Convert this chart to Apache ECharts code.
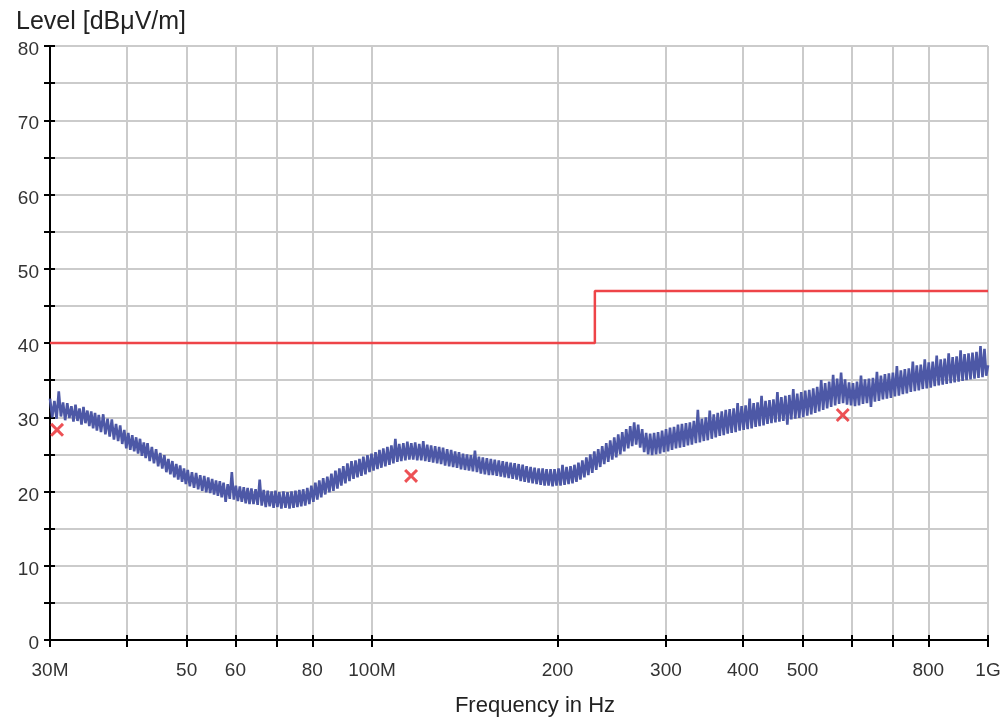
<!DOCTYPE html>
<html>
<head>
<meta charset="utf-8">
<title>Level vs Frequency</title>
<script src="https://cdn.jsdelivr.net/npm/echarts@6/dist/echarts.min.js"></script>
<style>
  html, body { margin: 0; padding: 0; background: #fff; }
  #chart { width: 1006px; height: 717px; }
</style>
</head>
<body>
<div id="chart"></div>
<script>
// frequency in MHz
const traceFreq = [
  30, 30.25, 30.5, 30.75, 31, 31.25, 31.5, 31.75, 32, 32.25, 32.5, 32.75, 33, 33.25, 33.5, 33.75, 34, 34.25, 34.5, 34.75,
  35, 35.25, 35.5, 35.75, 36, 36.3, 36.6, 36.9, 37.2, 37.5, 37.8, 38.1, 38.4, 38.7, 39, 39.3, 39.6, 39.9, 40.2, 40.5,
  40.8, 41.1, 41.4, 41.7, 42, 42.3, 42.6, 42.9, 43.2, 43.55, 43.9, 44.25, 44.6, 44.95, 45.3, 45.65, 46, 46.35, 46.7, 47.05,
  47.4, 47.75, 48.1, 48.45, 48.8, 49.15, 49.5, 49.85, 50.2, 50.6, 51, 51.4, 51.8, 52.2, 52.6, 53, 53.4, 53.8, 54.2, 54.6,
  55, 55.4, 55.8, 56.2, 56.6, 57, 57.4, 57.85, 58.3, 58.75, 59.2, 59.65, 60.1, 60.55, 61, 61.45, 61.9, 62.35, 62.8, 63.25,
  63.7, 64.2, 64.7, 65.2, 65.7, 66.2, 66.7, 67.2, 67.7, 68.2, 68.7, 69.2, 69.7, 70.2, 70.7, 71.25, 71.8, 72.35, 72.9, 73.45,
  74, 74.55, 75.1, 75.65, 76.2, 76.75, 77.3, 77.9, 78.5, 79.1, 79.7, 80.3, 80.9, 81.5, 82.1, 82.7, 83.3, 83.95, 84.6, 85.25,
  85.9, 86.55, 87.2, 87.85, 88.5, 89.15, 89.8, 90.5, 91.2, 91.9, 92.6, 93.3, 94, 94.7, 95.4, 96.1, 96.8, 97.55, 98.3, 99.05,
  99.8, 100.55, 101.3, 102.05, 102.8, 103.55, 104.3, 105.1, 105.9, 106.7, 107.5, 108.3, 109.1, 109.9, 110.7, 111.55, 112.4, 113.25, 114.1, 114.95,
  115.8, 116.65, 117.5, 118.4, 119.3, 120.2, 121.1, 122, 122.9, 123.8, 124.7, 125.65, 126.6, 127.55, 128.5, 129.45, 130.4, 131.4, 132.4, 133.4,
  134.4, 135.4, 136.4, 137.4, 138.4, 139.45, 140.5, 141.55, 142.6, 143.65, 144.7, 145.8, 146.9, 148, 149.1, 150.2, 151.3, 152.45, 153.6, 154.75,
  155.9, 157.05, 158.2, 159.4, 160.6, 161.8, 163, 164.2, 165.4, 166.65, 167.9, 169.15, 170.4, 171.7, 173, 174.3, 175.6, 176.9, 178.2, 179.55,
  180.9, 182.25, 183.6, 185, 186.4, 187.8, 189.2, 190.6, 192, 193.45, 194.9, 196.35, 197.8, 199.3, 200.8, 202.3, 203.8, 205.35, 206.9, 208.45,
  210, 211.55, 213.1, 214.7, 216.3, 217.9, 219.5, 221.15, 222.8, 224.45, 226.1, 227.8, 229.5, 231.2, 232.9, 234.65, 236.4, 238.2, 240, 241.8,
  243.6, 245.45, 247.3, 249.15, 251, 252.9, 254.8, 256.7, 258.6, 260.55, 262.5, 264.45, 266.4, 268.4, 270.4, 272.45, 274.5, 276.55, 278.6, 280.7,
  282.8, 284.9, 287, 289.15, 291.3, 293.5, 295.7, 297.9, 300.1, 302.35, 304.6, 306.9, 309.2, 311.5, 313.8, 316.15, 318.5, 320.9, 323.3, 325.7,
  328.1, 330.55, 333, 335.5, 338, 340.55, 343.1, 345.65, 348.2, 350.8, 353.4, 356.05, 358.7, 361.4, 364.1, 366.85, 369.6, 372.35, 375.1, 377.9,
  380.7, 383.55, 386.4, 389.3, 392.2, 395.15, 398.1, 401.1, 404.1, 407.15, 410.2, 413.3, 416.4, 419.5, 422.6, 425.75, 428.9, 432.1, 435.3, 438.55,
  441.8, 445.1, 448.4, 451.75, 455.1, 458.5, 461.9, 465.35, 468.8, 472.3, 475.8, 479.35, 482.9, 486.5, 490.1, 493.8, 497.5, 501.25, 505, 508.8,
  512.6, 516.45, 520.3, 524.2, 528.1, 532.05, 536, 540, 544, 548.1, 552.2, 556.35, 560.5, 564.7, 568.9, 573.15, 577.4, 581.7, 586, 590.4,
  594.8, 599.25, 603.7, 608.25, 612.8, 617.4, 622, 626.65, 631.3, 636.05, 640.8, 645.6, 650.4, 655.3, 660.2, 665.15, 670.1, 675.15, 680.2, 685.3,
  690.4, 695.6, 700.8, 706.05, 711.3, 716.65, 722, 727.4, 732.8, 738.3, 743.8, 749.4, 755, 760.65, 766.3, 772.05, 777.8, 783.65, 789.5, 795.4,
  801.3, 807.3, 813.3, 819.4, 825.5, 831.7, 837.9, 844.2, 850.5, 856.9, 863.3, 869.75, 876.2, 882.75, 889.3, 895.95, 902.6, 909.35, 916.1, 922.95,
  929.8, 936.75, 943.7, 950.8, 957.9, 965.1, 972.3, 979.6, 986.9, 993.45, 1000
];
// level in dBuV/m
const traceLevel = [
  32.5, 30.0, 32.2, 29.8, 33.5, 30.1, 32.0, 29.6, 31.9, 29.9, 31.5, 29.4, 31.7, 29.5, 31.2, 29.0, 31.4, 29.2, 30.9, 28.8,
  30.8, 28.5, 30.6, 28.2, 30.3, 28.0, 30.4, 27.7, 29.8, 27.4, 29.7, 27.0, 29.1, 26.8, 28.9, 26.4, 28.3, 25.8, 27.9, 25.6,
  27.6, 25.4, 27.3, 25.1, 27.1, 24.8, 26.6, 24.5, 26.5, 24.1, 26.0, 23.8, 25.7, 23.4, 25.2, 23.1, 24.9, 22.6, 24.4, 22.3,
  24.1, 21.9, 23.7, 21.6, 23.5, 21.3, 23.1, 21.0, 22.9, 20.7, 22.6, 20.5, 22.5, 20.3, 22.2, 20.1, 22.1, 19.9, 21.9, 19.8,
  21.7, 19.6, 21.5, 19.4, 21.4, 19.2, 21.2, 18.6, 21.0, 19.0, 22.6, 18.9, 20.8, 18.7, 20.7, 18.6, 20.6, 18.4, 20.5, 18.3,
  20.4, 18.3, 20.3, 18.2, 21.6, 18.1, 20.2, 17.9, 20.1, 18.0, 20.0, 17.8, 20.1, 17.9, 19.9, 17.7, 20.0, 17.8, 19.9, 17.7,
  20.0, 17.8, 20.1, 17.9, 20.2, 18.0, 20.3, 18.1, 20.5, 18.3, 20.8, 18.6, 21.2, 18.9, 21.5, 19.2, 21.8, 19.6, 22.0, 19.9,
  22.4, 20.1, 22.8, 20.4, 23.1, 20.8, 23.4, 21.1, 23.8, 21.4, 24.1, 21.7, 24.2, 21.9, 24.4, 22.1, 24.7, 22.3, 24.9, 22.6,
  25.1, 22.8, 25.3, 23.0, 25.6, 23.2, 25.8, 23.4, 26.0, 23.6, 26.2, 23.8, 27.1, 24.0, 26.4, 24.1, 26.5, 24.2, 26.7, 24.3,
  26.5, 24.3, 26.6, 24.2, 26.4, 24.2, 26.8, 24.1, 26.3, 24.0, 26.2, 23.9, 26.1, 23.8, 26.0, 23.7, 25.9, 23.5, 25.7, 23.4,
  25.6, 23.3, 25.4, 23.2, 25.3, 23.0, 25.1, 22.9, 25.0, 22.8, 24.9, 22.7, 25.5, 22.6, 24.7, 22.4, 24.6, 22.3, 24.5, 22.2,
  24.4, 22.2, 24.3, 22.1, 24.2, 22.0, 24.1, 21.9, 24.0, 21.8, 23.9, 21.7, 23.8, 21.6, 23.7, 21.4, 23.6, 21.3, 23.4, 21.2,
  23.3, 21.1, 23.2, 21.0, 23.1, 20.9, 23.1, 20.8, 23.0, 20.8, 23.0, 20.7, 23.0, 20.8, 23.1, 20.8, 23.6, 20.9, 23.3, 21.0,
  23.4, 21.1, 23.6, 21.3, 23.9, 21.6, 24.2, 21.9, 24.6, 22.2, 25.0, 22.5, 25.4, 22.9, 25.7, 23.3, 26.1, 23.7, 26.5, 24.0,
  26.9, 24.3, 27.3, 24.6, 27.7, 25.0, 28.0, 25.4, 28.4, 25.8, 28.8, 26.1, 29.3, 26.3, 29.0, 25.9, 28.4, 25.3, 27.9, 25.0,
  27.8, 24.9, 27.9, 25.0, 28.0, 25.1, 28.2, 25.3, 28.4, 25.4, 28.6, 25.6, 28.7, 25.8, 29.0, 25.9, 29.1, 26.0, 29.2, 26.2,
  29.3, 26.3, 29.5, 26.5, 31.0, 26.6, 29.8, 26.8, 30.0, 26.9, 30.9, 27.1, 30.4, 27.3, 30.6, 27.5, 30.8, 27.6, 31.0, 27.8,
  31.1, 27.9, 31.2, 28.0, 31.9, 28.2, 31.5, 28.3, 31.6, 28.4, 32.5, 28.5, 31.9, 28.7, 32.0, 28.8, 32.9, 28.9, 32.2, 29.1,
  32.3, 29.2, 32.4, 29.3, 33.4, 29.4, 32.7, 29.5, 32.9, 29.0, 33.0, 29.7, 33.8, 29.8, 33.2, 29.9, 33.4, 30.0, 33.6, 30.2,
  33.7, 30.4, 33.9, 30.6, 34.1, 30.8, 35.0, 31.0, 34.6, 31.2, 34.8, 31.4, 35.7, 31.6, 35.2, 31.8, 36.0, 31.9, 35.1, 31.7,
  34.7, 31.6, 34.6, 31.5, 34.8, 31.6, 35.6, 31.8, 35.1, 31.9, 35.2, 31.4, 35.3, 32.1, 36.1, 32.2, 35.6, 32.4, 35.8, 32.5,
  35.9, 32.6, 36.0, 32.8, 36.9, 32.9, 36.3, 33.1, 36.5, 33.2, 36.6, 33.4, 37.5, 33.5, 37.0, 33.6, 37.1, 33.8, 37.8, 33.9,
  37.4, 34.0, 37.5, 34.2, 38.3, 34.3, 37.8, 34.4, 37.9, 34.5, 38.6, 34.6, 38.1, 34.7, 38.2, 34.8, 39.0, 34.9, 38.5, 35.0,
  38.6, 35.1, 38.7, 35.2, 38.8, 35.3, 39.6, 35.4, 39.2, 35.6, 37.0
];

const limitFreq = [30, 230, 230, 1000];
const limitLevel = [40, 40, 47, 47];

const markerFreq = [30.8, 115.7, 581];
const markerLevel = [28.3, 22.1, 30.3];

const xTickValues = [30, 40, 50, 60, 70, 80, 100, 200, 300, 400, 500, 600, 700, 800, 1000];
const xLabelValues = [30, 50, 60, 80, 100, 200, 300, 400, 500, 800, 1000];
const xLabelText = { 30: '30M', 100: '100M', 1000: '1G' };

function zip(xs, ys) {
    return xs.map(function (x, i) { return [x, ys[i]]; });
}

const fontFamily = '"Liberation Sans", Arial, sans-serif';
const crossPath = 'path://M0,1.5 L1.5,0 L5,3.5 L8.5,0 L10,1.5 L6.5,5 L10,8.5 L8.5,10 L5,6.5 L1.5,10 L0,8.5 L3.5,5 Z';

const chart = echarts.init(document.getElementById('chart'), null, { renderer: 'canvas' });

const xBase = {
    type: 'log',
    logBase: 10,
    min: 30,
    max: 1000,
    position: 'bottom'
};
const yBase = {
    type: 'value',
    min: 0,
    max: 80,
    interval: 5,
    position: 'left'
};

chart.setOption({
    animation: false,
    backgroundColor: '#ffffff',
    title: {
        text: 'Level [dBμV/m]',
        left: 11,
        top: 5,
        textStyle: { fontFamily: fontFamily, fontSize: 25, fontWeight: 'normal', color: '#222' }
    },
    grid: { left: 50, right: 18, top: 46, bottom: 77, containLabel: false, outerBoundsMode: 'none' },
    xAxis: [
        Object.assign({}, xBase, {
            name: 'Frequency in Hz',
            nameLocation: 'middle',
            nameGap: 55,
            nameTextStyle: { fontFamily: fontFamily, fontSize: 22, color: '#222', padding: [0, 0, 0, 32] },
            axisLine: { show: true, onZero: false, lineStyle: { color: '#000', width: 2 } },
            axisTick: { show: true, length: 7, customValues: xTickValues, lineStyle: { color: '#000', width: 2 } },
            axisLabel: {
                show: true,
                customValues: xLabelValues,
                margin: 21,
                fontFamily: fontFamily,
                fontSize: 19,
                color: '#333',
                formatter: function (v) {
                    const k = Math.round(v);
                    return xLabelText[k] || String(k);
                }
            },
            splitLine: { show: true, lineStyle: { color: '#cbcbcb', width: 2 } },
            minorTick: { show: false },
            minorSplitLine: { show: false }
        }),
        Object.assign({}, xBase, {
            axisLine: { show: false, onZero: false },
            axisTick: { show: true, inside: true, length: 5, customValues: xTickValues, lineStyle: { color: '#000', width: 2 } },
            axisLabel: { show: false },
            splitLine: { show: false }
        })
    ],
    yAxis: [
        Object.assign({}, yBase, {
            axisLine: { show: true, onZero: false, lineStyle: { color: '#000', width: 2 } },
            axisTick: { show: true, length: 6, lineStyle: { color: '#000', width: 2 } },
            axisLabel: {
                margin: 11,
                verticalAlign: 'top',
                lineHeight: 8,
                fontFamily: fontFamily,
                fontSize: 19,
                color: '#333',
                formatter: function (v) { return v % 10 === 0 ? String(v) : ''; }
            },
            splitLine: { show: true, lineStyle: { color: '#cbcbcb', width: 2 } }
        }),
        Object.assign({}, yBase, {
            axisLine: { show: false, onZero: false },
            axisTick: { show: true, inside: true, length: 5, lineStyle: { color: '#000', width: 2 } },
            axisLabel: { show: false },
            splitLine: { show: false }
        })
    ],
    series: [
        {
            name: 'Level',
            type: 'line',
            data: zip(traceFreq, traceLevel),
            showSymbol: false,
            symbol: 'none',
            sampling: null,
            lineStyle: { color: '#4d58a6', width: 2.6, join: 'bevel' },
            z: 3
        },
        {
            name: 'Limit',
            type: 'line',
            data: zip(limitFreq, limitLevel),
            showSymbol: false,
            symbol: 'none',
            lineStyle: { color: '#ee4448', width: 2.5 },
            z: 4
        },
        {
            name: 'Final',
            type: 'scatter',
            data: zip(markerFreq, markerLevel),
            symbol: crossPath,
            symbolSize: 14,
            itemStyle: { color: '#e8262a' },
            z: 5
        }
    ]
});
</script>
</body>
</html>
